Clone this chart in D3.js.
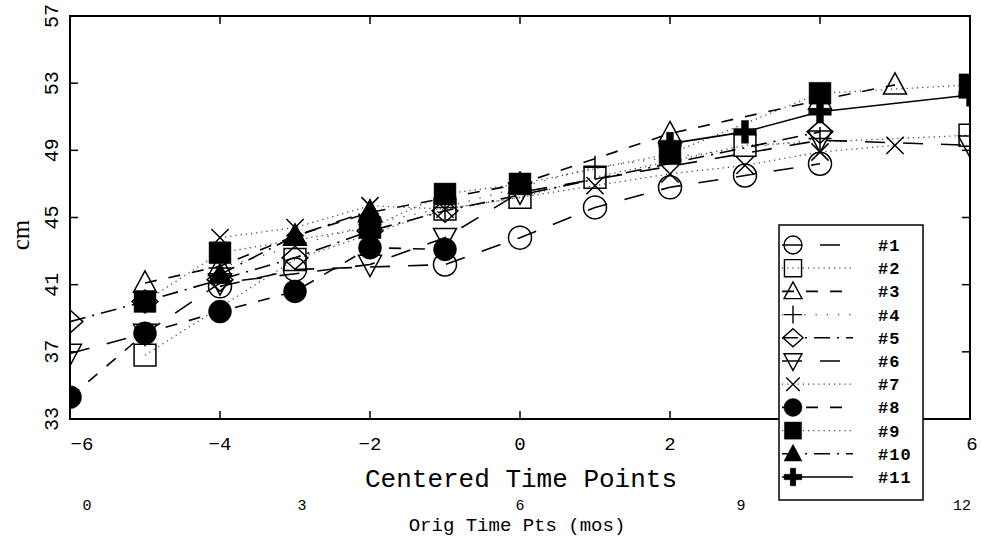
<!DOCTYPE html>
<html>
<head>
<meta charset="utf-8">
<script src="https://cdn.jsdelivr.net/npm/d3@7"></script>
<style>
body { margin: 0; background: #fff; }
svg { display: block; }
text { font-family: "Liberation Mono", "DejaVu Sans Mono", monospace; fill: #000; }
</style>
</head>
<body>
<svg width="982" height="545"></svg>
<script>
// centered time points (months - 6)
const times = [-6, -5, -4, -3, -2, -1, 0, 1, 2, 3, 4, 5, 6]
const xTicks = [-6, -4, -2, 0, 2, 4, 6]
const origTicks = [0, 3, 6, 9, 12]
const yTicks = [33, 37, 41, 45, 49, 53, 57]
const subjects = ["#1", "#2", "#3", "#4", "#5", "#6", "#7", "#8", "#9", "#10", "#11"]

// head circumference (cm) per subject, one value per time point, null = not measured
const s1  = [null, null, 40.9, 41.9, null, 42.2, 43.8, 45.6, 46.8, 47.5, 48.2, null, null]
const s2  = [null, 36.8, null, 42.5, null, 45.5, 46.2, 47.4, null, 49.3, null, null, 49.9]
const s3  = [null, 41.1, 42.1, 43.9, 45.3, null, 47.0, null, 50.0, null, 52.0, 52.9, null]
const s4  = [null, null, 42.0, null, 44.6, 45.6, null, 48.0, null, null, 49.7, null, null]
const s5  = [38.8, 40.0, 41.3, 42.6, 44.2, 45.4, null, null, null, null, 50.1, null, null]
const s6  = [36.9, 38.1, 41.1, null, 42.2, 43.8, 46.5, null, null, null, 49.6, null, 49.3]
const s7  = [null, null, 43.8, 44.4, 45.7, 45.5, null, 46.9, 47.6, 48.1, 48.9, 49.3, null]
const s8  = [34.3, 38.1, 39.4, 40.6, 43.2, 43.1, null, null, null, null, null, null, null]
const s9  = [null, 40.0, 42.9, null, 44.4, 46.4, 47.0, null, 48.8, null, 52.4, null, 52.9]
const s10 = [null, null, 41.6, 43.9, 45.4, null, null, null, null, null, null, null, null]
const s11 = [null, null, null, null, null, null, null, null, 49.4, 50.1, 51.3, null, 52.3]
const series = [s1, s2, s3, s4, s5, s6, s7, s8, s9, s10, s11]

const symbolNames = ["circle", "square", "triUp", "plus", "diamond", "triDown", "times", "circle", "square", "triUp", "cross"]
const filled = [false, false, false, false, false, false, false, true, true, true, true]
const dashes = ["20,18", "1.2,4", "12,12", "1.2,10", "16,7,2,7", "20,18", "1.2,4", "12,12", "1.2,4", "16,7,2,7", null]

// custom symbol types, size = (2r)^2
function rOf(s) { return Math.sqrt(s) / 2 }
const shapes = {
    circle: { draw(c, s) { const r = rOf(s); c.moveTo(r, 0); c.arc(0, 0, r, 0, 2 * Math.PI) } },
    square: { draw(c, s) { const r = rOf(s) * 0.95; c.rect(-r, -r, 2 * r, 2 * r) } },
    triUp: { draw(c, s) { const r = rOf(s); c.moveTo(0, -1.05 * r); c.lineTo(r, 0.8 * r); c.lineTo(-r, 0.8 * r); c.closePath() } },
    triDown: { draw(c, s) { const r = rOf(s); c.moveTo(0, 1.05 * r); c.lineTo(r, -0.8 * r); c.lineTo(-r, -0.8 * r); c.closePath() } },
    diamond: { draw(c, s) { const r = rOf(s); c.moveTo(0, -r); c.lineTo(1.12 * r, 0); c.lineTo(0, r); c.lineTo(-1.12 * r, 0); c.closePath() } },
    plus: { draw(c, s) { const r = rOf(s); c.moveTo(-r, 0); c.lineTo(r, 0); c.moveTo(0, -r); c.lineTo(0, r) } },
    times: { draw(c, s) { const r = rOf(s) * 0.75; c.moveTo(-r, -r); c.lineTo(r, r); c.moveTo(-r, r); c.lineTo(r, -r) } },
    cross: { draw(c, s) {
        const r = rOf(s) * 0.98, t = rOf(s) * 0.3
        c.moveTo(-t, -r); c.lineTo(t, -r); c.lineTo(t, -t); c.lineTo(r, -t); c.lineTo(r, t); c.lineTo(t, t)
        c.lineTo(t, r); c.lineTo(-t, r); c.lineTo(-t, t); c.lineTo(-r, t); c.lineTo(-r, -t); c.lineTo(-t, -t); c.closePath()
    } }
}

const svg = d3.select("svg")
const x = d3.scaleLinear().domain([-6, 6]).range([70, 970])
const xOrig = d3.scaleLinear().domain([0, 12]).range([70, 970])
const y = d3.scaleLinear().domain([33, 57]).range([419, 16])

svg.append("clipPath").attr("id", "plotClip")
    .append("rect").attr("x", 70).attr("y", 16).attr("width", 900).attr("height", 403)

const plot = svg.append("g").attr("clip-path", "url(#plotClip)")

function pointsOf(s) {
    return times.map(function(t, i) { return { t: t, v: s[i] } }).filter(function(d) { return d.v != null })
}
function isDotted(i) { return dashes[i] && dashes[i].startsWith("1.2") }

const line = d3.line().x(function(d) { return x(d.t) }).y(function(d) { return y(d.v) })

// lines first
series.forEach(function(s, i) {
    plot.append("path")
        .attr("d", line(pointsOf(s)))
        .attr("fill", "none")
        .attr("stroke", isDotted(i) ? "#444" : "#000")
        .attr("stroke-width", isDotted(i) ? 1.3 : 1.6)
        .attr("stroke-dasharray", dashes[i])
})

// then markers
series.forEach(function(s, i) {
    const sym = d3.symbol(shapes[symbolNames[i]], 23 * 23)
    plot.selectAll(null).data(pointsOf(s)).enter().append("path")
        .attr("transform", function(d) { return "translate(" + x(d.t) + "," + y(d.v) + ")" })
        .attr("d", sym)
        .attr("fill", filled[i] ? "#000" : "none")
        .attr("stroke", "#000")
        .attr("stroke-width", filled[i] ? 0.5 : 1.5)
})

// frame
svg.append("rect").attr("x", 70).attr("y", 16).attr("width", 900).attr("height", 403)
    .attr("fill", "none").attr("stroke", "#000").attr("stroke-width", 2)

// ticks
xTicks.forEach(function(t) {
    svg.append("line").attr("x1", x(t)).attr("x2", x(t)).attr("y1", 419).attr("y2", 411).attr("stroke", "#000").attr("stroke-width", 1.5)
    svg.append("line").attr("x1", x(t)).attr("x2", x(t)).attr("y1", 16).attr("y2", 24).attr("stroke", "#000").attr("stroke-width", 1.5)
})
yTicks.forEach(function(v) {
    svg.append("line").attr("x1", 70).attr("x2", 78).attr("y1", y(v)).attr("y2", y(v)).attr("stroke", "#000").attr("stroke-width", 1.5)
    svg.append("line").attr("x1", 970).attr("x2", 962).attr("y1", y(v)).attr("y2", y(v)).attr("stroke", "#000").attr("stroke-width", 1.5)
})

// tick labels
const nudge = { "-6": 12, "6": 2 }
xTicks.forEach(function(t) {
    svg.append("text").attr("x", x(t) + (nudge[t] || 0)).attr("y", 450)
        .attr("text-anchor", "middle").attr("font-size", 19)
        .text(t < 0 ? "\u2212" + Math.abs(t) : t)
})
const nudgeOrig = { "0": 17, "3": 7, "9": -4, "12": -8 }
origTicks.forEach(function(t) {
    svg.append("text").attr("x", xOrig(t) + (nudgeOrig[t] || 0)).attr("y", 510)
        .attr("text-anchor", "middle").attr("font-size", 15)
        .text(t)
})
yTicks.forEach(function(v) {
    svg.append("text").attr("transform", "translate(58," + y(v) + ") rotate(-90)")
        .attr("text-anchor", "middle").attr("font-size", 20)
        .text(v)
})

// axis titles
svg.append("text").attr("x", 521).attr("y", 487).attr("text-anchor", "middle").attr("font-size", 26)
    .text("Centered Time Points")
svg.append("text").attr("x", 517).attr("y", 531).attr("text-anchor", "middle").attr("font-size", 19)
    .text("Orig Time Pts (mos)")
svg.append("text").attr("transform", "translate(29,235) rotate(-90)")
    .attr("text-anchor", "middle").attr("font-size", 25)
    .style("font-family", "'Liberation Serif', serif")
    .text("cm")

// legend
const legend = svg.append("g")
legend.append("rect").attr("x", 779).attr("y", 225).attr("width", 144).attr("height", 275)
    .attr("fill", "#fff").attr("stroke", "#000").attr("stroke-width", 1.5)
const legendY = d3.scalePoint().domain(subjects).range([245, 477])
subjects.forEach(function(name, i) {
    const ly = legendY(name)
    legend.append("line").attr("x1", 782).attr("x2", 853).attr("y1", ly).attr("y2", ly)
        .attr("stroke", isDotted(i) ? "#444" : "#000")
        .attr("stroke-width", isDotted(i) ? 1.3 : 1.6)
        .attr("stroke-dasharray", dashes[i])
    legend.append("path").attr("transform", "translate(793," + ly + ")")
        .attr("d", d3.symbol(shapes[symbolNames[i]], 18 * 18))
        .attr("fill", filled[i] ? "#000" : "none")
        .attr("stroke", "#000")
        .attr("stroke-width", filled[i] ? 0.5 : 1.4)
    legend.append("text").attr("x", 878).attr("y", ly + 6).attr("font-size", 17)
        .attr("font-weight", "bold").attr("letter-spacing", 1)
        .text(name)
})
</script>
</body>
</html>
